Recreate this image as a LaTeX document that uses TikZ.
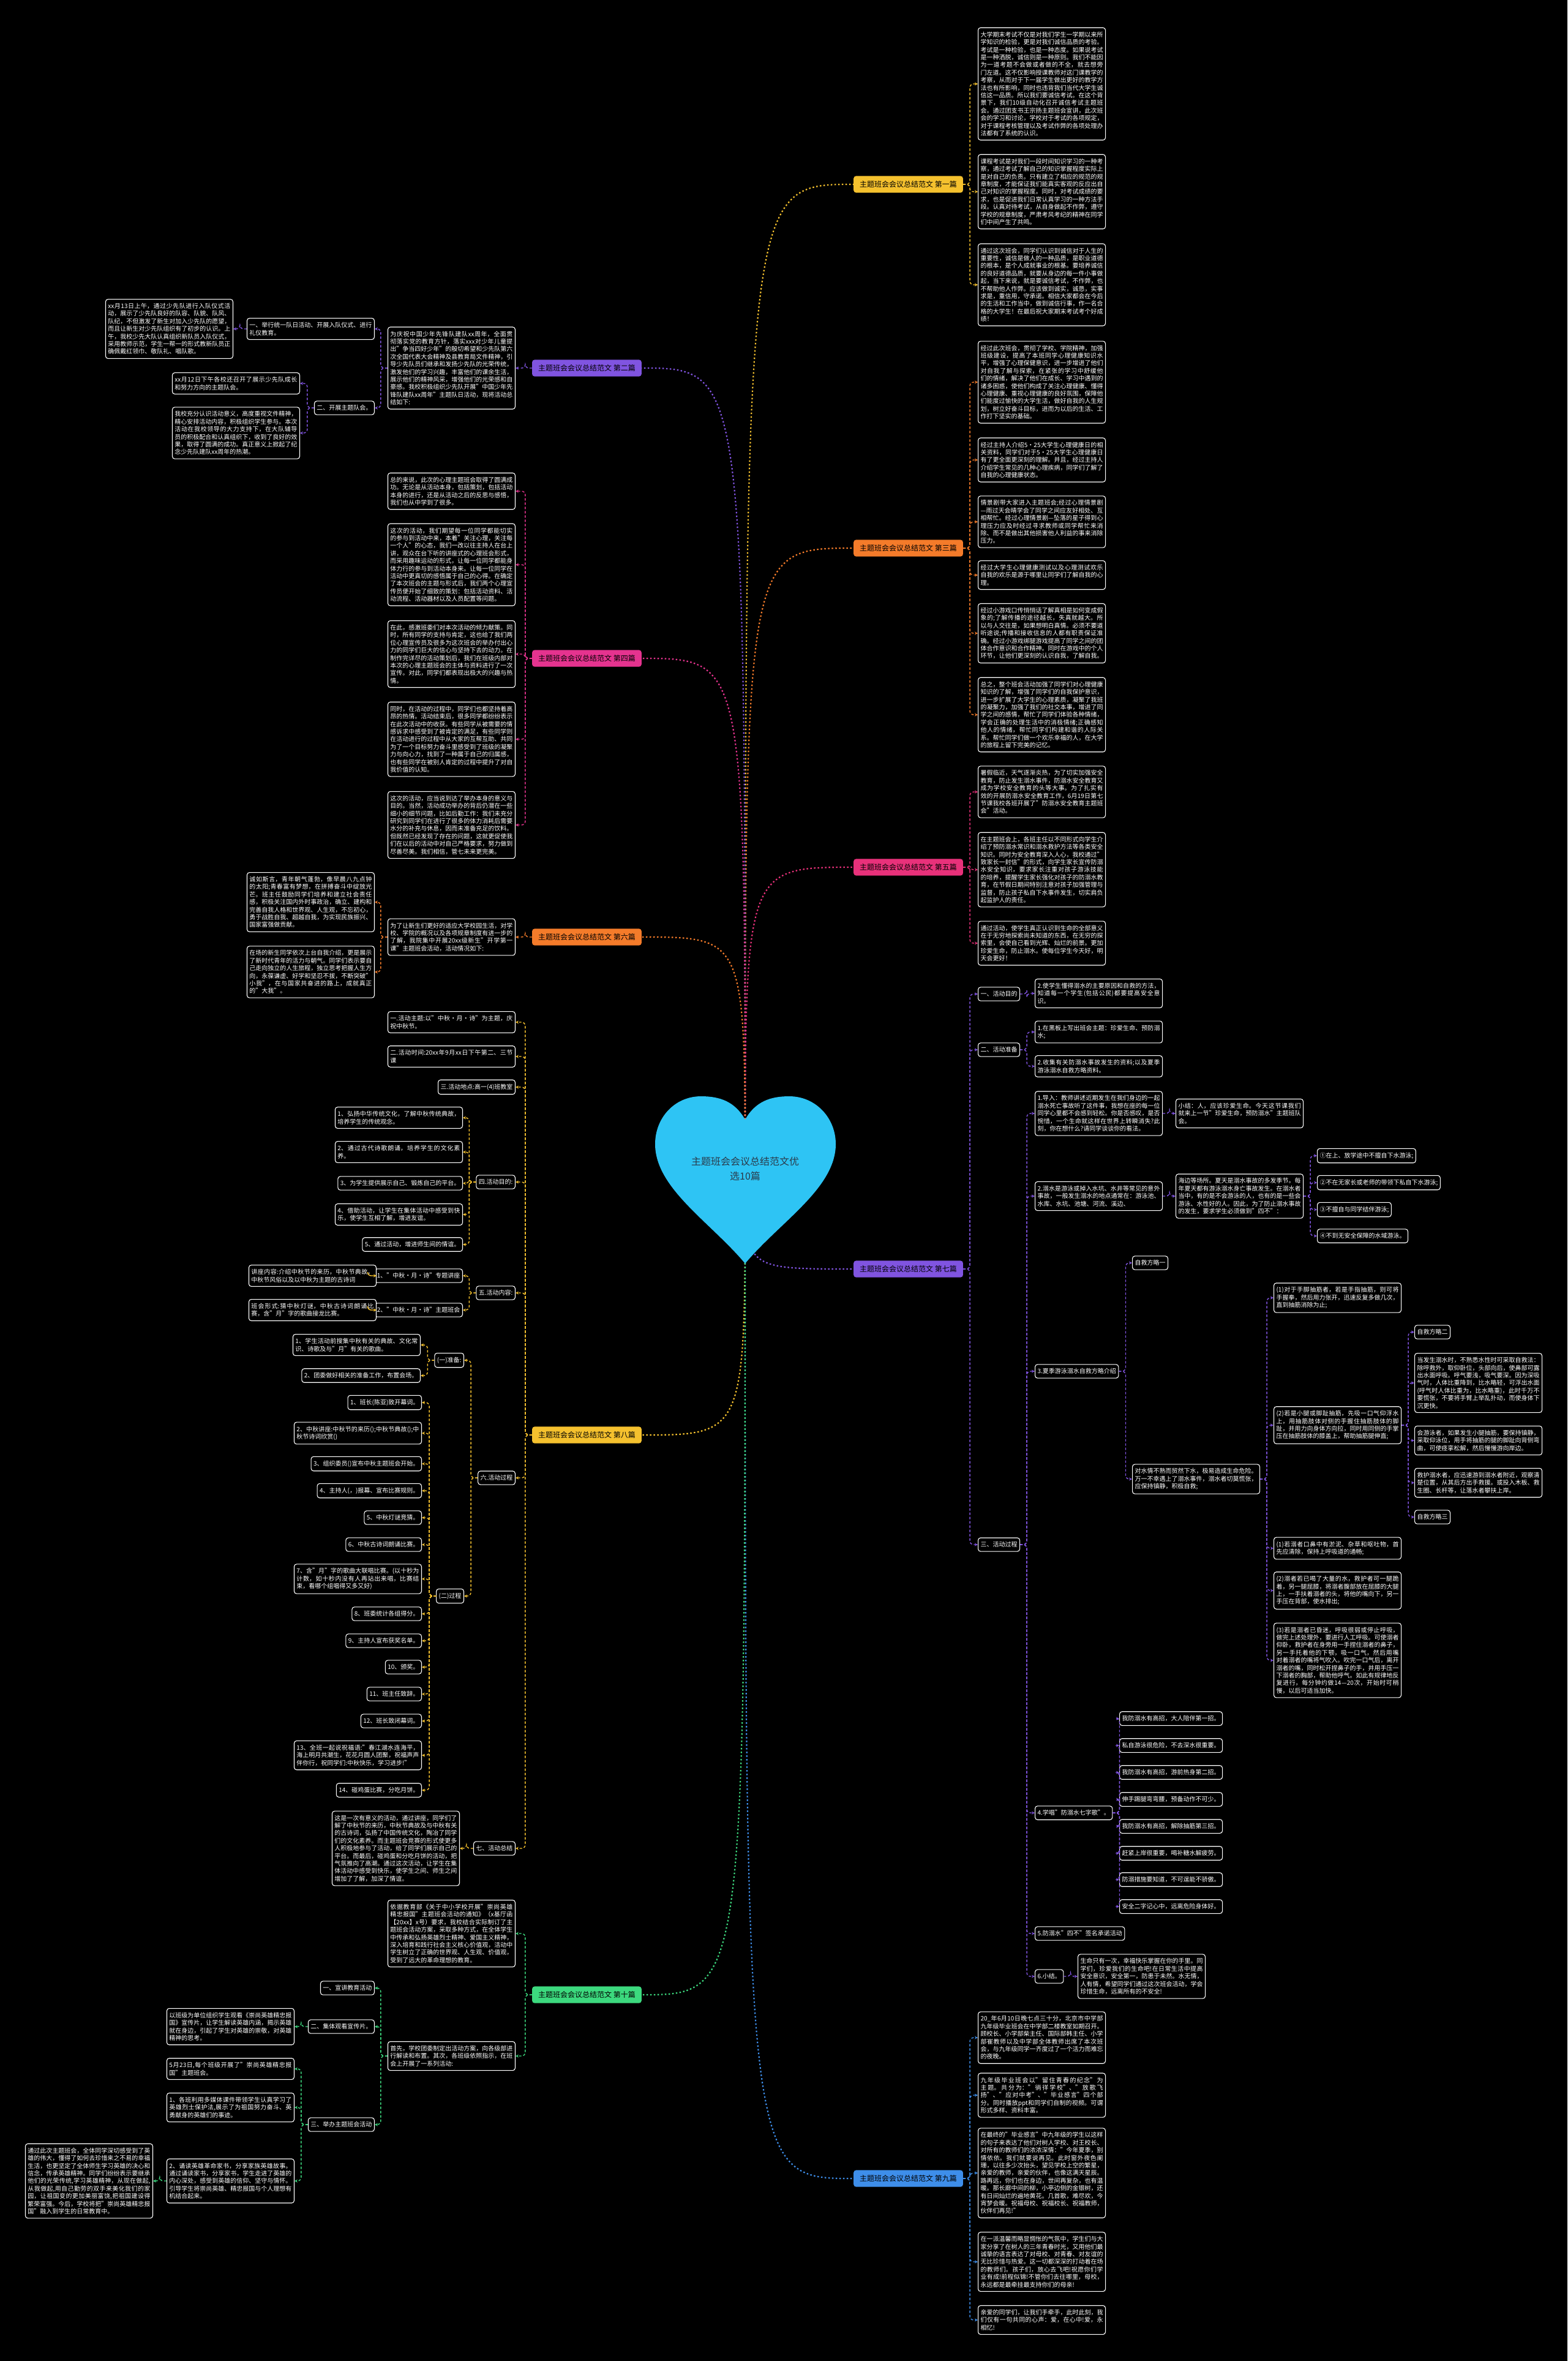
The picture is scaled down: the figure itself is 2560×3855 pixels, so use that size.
\documentclass[tikz,border=0pt]{standalone}
\usepackage{fontspec}
\setmainfont{Noto Sans CJK SC}
\usetikzlibrary{positioning,arrows.meta,calc}
\XeTeXlinebreaklocale "zh"
\XeTeXlinebreakskip=0pt plus 1pt

\definecolor{cyel}{HTML}{F5C12E}
\definecolor{cpur}{HTML}{8054E0}
\definecolor{cora}{HTML}{F47B2A}
\definecolor{cpnk}{HTML}{E5338F}
\definecolor{cmag}{HTML}{E8317A}
\definecolor{cblu}{HTML}{3E8EEA}
\definecolor{cgrn}{HTML}{3CD97E}
\definecolor{heartc}{HTML}{2EC4F4}
\definecolor{titlec}{HTML}{2A3A4A}

\begin{document}
\begin{tikzpicture}[x=1pt, y=-1pt,
  box/.style={draw=white, line width=1.1pt, rounded corners=4pt, fill=black,
              text=white, font=\fontsize{10}{12.4}\selectfont,
              inner xsep=4pt, inner ysep=6.5pt},
  txt/.style={box, text width=200pt, align=justify},
  lbl/.style={rounded corners=4pt, font=\fontsize{12}{14}\selectfont,
              inner xsep=10pt, inner ysep=8pt, text=black},
  sub/.style={line width=1.4pt, dash pattern=on 4pt off 3pt, rounded corners=6pt,
              -{Stealth[length=5pt,width=5pt]}},
  main/.style={line width=2.2pt, dash pattern=on 2.5pt off 3.5pt},
]
\fill[black] (0,0) rectangle (2560,3855);
\coordinate (hc) at (1217,1930);

% branch labels
\node[lbl, fill=cyel, anchor=west] (p1) at (1394,301)  {主题班会会议总结范文 第一篇};
\node[lbl, fill=cpur, anchor=east] (p2) at (1048,601)  {主题班会会议总结范文 第二篇};
\node[lbl, fill=cora, anchor=west] (p3) at (1394,895)  {主题班会会议总结范文 第三篇};
\node[lbl, fill=cpnk, anchor=east] (p4) at (1048,1075) {主题班会会议总结范文 第四篇};
\node[lbl, fill=cmag, anchor=west] (p5) at (1394,1416) {主题班会会议总结范文 第五篇};
\node[lbl, fill=cora, anchor=east] (p6) at (1048,1530) {主题班会会议总结范文 第六篇};
\node[lbl, fill=cpur, anchor=west] (p7) at (1394,2072) {主题班会会议总结范文 第七篇};
\node[lbl, fill=cyel, anchor=east] (p8) at (1048,2343) {主题班会会议总结范文 第八篇};
\node[lbl, fill=cblu, anchor=west] (p9) at (1394,3557) {主题班会会议总结范文 第九篇};
\node[lbl, fill=cgrn, anchor=east] (p10) at (1048,3257) {主题班会会议总结范文 第十篇};

% first
\node[txt, anchor=west] (p1a) at (1597,137) {大学期末考试不仅是对我们学生一学期以来所学知识的检验，更是对我们诚信品质的考验。考试是一种检验，也是一种态度。如果说考试是一种洒脱，诚信则是一种原则。我们不能因为一道考题不会做或者做的不全，就去想旁门左道。这不仅影响授课教师对这门课教学的考察，从而对于下一届学生做出更好的教学方法也有所影响，同时也违背我们当代大学生诚信这一品质。所以我们要诚信考试。在这个背景下，我们10级自动化召开诚信考试主题班会。通过团支书王宗扬主题班会宣讲，此次班会的学习和讨论，学校对于考试的各项规定，对于课程考核管理以及考试作弊的各项处理办法都有了系统的认识。};
\node[txt, anchor=west] (p1b) at (1597,313) {课程考试是对我们一段时间知识学习的一种考察，通过考试了解自己的知识掌握程度实际上是对自己的负责。只有建立了相应的规范的规章制度，才能保证我们能真实客观的反应出自己对知识的掌握程度。同时，对考试成绩的要求，也是促进我们日常认真学习的一种方法手段。认真对待考试，从自身做起不作弊，遵守学校的规章制度，严肃考风考纪的精神在同学们中间产生了共鸣。};
\node[txt, anchor=west] (p1c) at (1597,465) {通过这次班会，同学们认识到诚信对于人生的重要性，诚信是做人的一种品质，是职业道德的根本，是个人成就事业的根基。要培养诚信的良好道德品质，就要从身边的每一件小事做起，当下来说，就是要诚信考试，不作弊，也不帮助他人作弊。应该做到诚实，诚恳，实事求是，重信用，守承诺。相信大家都会在今后的生活和工作当中，做到诚信行事，作一名合格的大学生！在最后祝大家期末考试考个好成绩！};

% third
\node[txt, anchor=west] (p3a) at (1597,624) {经过此次班会，贯彻了学校、学院精神，加强班级建设，提高了本班同学心理健康知识水平，增强了心理保健意识，进一步增进了他们对自我了解与探索，在紧张的学习中舒缓他们的情绪，解决了他们在成长、学习中遇到的诸多困惑，使他们构成了关注心理健康、懂得心理健康、重视心理健康的良好氛围，保障他们能度过愉快的大学生活，做好自我的人生规划，树立好奋斗目标，进而为以后的生活、工作打下坚实的基础。};
\node[txt, anchor=west] (p3b) at (1597,751) {经过主持人介绍5·25大学生心理健康日的相关资料，同学们对于5·25大学生心理健康日有了更全面更深刻的理解。并且，经过主持人介绍学生常见的几种心理疾病，同学们了解了自我的心理健康状态。};
\node[txt, anchor=west] (p3c) at (1597,852) {情景剧带大家进入主题班会;经过心理情景剧—雨过天会晴学会了同学之间应友好相处、互相帮忙。经过心理情景剧—坠落的星子得到心理压力应及时经过寻求教师或同学帮忙来消除、而不是做出其他损害他人利益的事来消除压力。};
\node[txt, anchor=west] (p3d) at (1597,939) {经过大学生心理健康测试以及心理测试欢乐自我的欢乐是源于哪里让同学们了解自我的心理。};
\node[txt, anchor=west] (p3e) at (1597,1034) {经过小游戏口传悄悄话了解真相是如何变成假象的;了解传播的途径越长，失真就越大。所以与人交往是，如果想明白真情。必须不要道听途说;传播和接收信息的人都有职责保证准确。经过小游戏绑腿游戏提高了同学之间的团体合作意识和合作精神。同时在游戏中的个人环节，让他们更深刻的认识自我，了解自我。};
\node[txt, anchor=west] (p3f) at (1597,1167) {总之，整个班会活动加强了同学们对心理健康知识的了解，增强了同学们的自我保护意识，进一步扩展了大学生的心理素质，凝聚了我班的凝聚力，加强了我们的社交本事，增进了同学之间的感情，帮忙了同学们体验各种情绪，学会正确的处理生活中的消极情绪;正确感知他人的情绪，帮忙同学们构建和谐的人际关系。帮忙同学们做一个欢乐幸福的人，在大学的旅程上留下完美的记忆。};

% fifth
\node[txt, anchor=west] (p5a) at (1597,1293) {暑假临近，天气逐渐炎热，为了切实加强安全教育，防止发生溺水事件，防溺水安全教育又成为学校安全教育的头等大事。为了扎实有效的开展防溺水安全教育工作，6月19日第七节课我校各班开展了"防溺水安全教育主题班会"活动。};
\node[txt, anchor=west] (p5b) at (1597,1420) {在主题班会上，各班主任以不同形式向学生介绍了预防溺水常识和溺水救护方法等各类安全知识。同时为安全教育深入人心，我校通过"致家长一封信"的形式，向学生家长宣传防溺水安全知识，要求家长注重对孩子游泳技能的培养，提醒学生家长强化对孩子的防溺水教育，在节假日期间特别注意对孩子加强管理与监督，防止孩子私自下水事件发生，切实肩负起监护人的责任。};
\node[txt, anchor=west] (p5c) at (1597,1540) {通过活动，使学生真正认识到生命的全部意义在于无穷地探索尚未知道的东西，在无穷的探索里，会使自己看到光辉、灿烂的前景。更加珍爱生命，防止溺水。使每位学生今天好，明天会更好！};

% seventh
\node[box, anchor=west] (g1) at (1597,1623) {一、活动目的};
\node[box, anchor=west] (g2) at (1597,1714) {二、活动准备};
\node[box, anchor=west] (g3) at (1597,2522) {三、活动过程};
\node[txt, anchor=west] (g1a) at (1690,1622) {2.使学生懂得溺水的主要原因和自救的方法，知道每一个学生(包括公民)都要提高安全意识。};
\node[txt, anchor=west] (g2a) at (1690,1685) {1.在黑板上写出班会主题：珍爱生命、预防溺水;};
\node[txt, anchor=west] (g2b) at (1690,1741) {2.收集有关防溺水事故发生的资料;以及夏季游泳溺水自救方略资料。};
\node[txt, anchor=west] (s1) at (1690,1818) {1.导入：教师讲述近期发生在我们身边的一起溺水死亡事故听了这件事，我想在座的每一位同学心里都不会感到轻松。你是否感叹，是否惋惜，一个生命就这样在世界上转瞬消失?此刻，你在想什么?请同学谈谈你的看法。};
\node[txt, anchor=west] (s2) at (1690,1953) {2.溺水是游泳或掉入水坑、水井等常见的意外事故，一般发生溺水的地点通常在：游泳池、水库、水坑、池塘、河流、溪边、};
\node[box, anchor=west] (s3) at (1690,2239) {3.夏季游泳溺水自救方略介绍};
\node[box, anchor=west] (s4) at (1690,2960) {4.学唱"防溺水七字歌"。};
\node[box, anchor=west] (s5) at (1690,3157) {5.防溺水"四不"签名承诺活动};
\node[box, anchor=west] (s6) at (1690,3227) {6.小结。};
\node[txt, anchor=west] (s1a) at (1920,1818) {小结：人，应该珍爱生命。今天这节课我们就来上一节"珍爱生命，预防溺水"主题班队会。};
\node[txt, anchor=west] (s2a) at (1920,1953) {海边等场所。夏天是溺水事故的多发季节。每年夏天都有游泳溺水身亡事故发生。在溺水者当中，有的是不会游泳的人，也有的是一些会游泳、水性好的人。因此，为了防止溺水事故的发生，要求学生必须做到"四不"：};
\node[box, anchor=west] (n1) at (2151,1887) {①在上、放学途中不擅自下水游泳;};
\node[box, anchor=west] (n2) at (2151,1931) {②不在无家长或老师的带领下私自下水游泳;};
\node[box, anchor=west] (n3) at (2151,1975) {③不擅自与同学结伴游泳;};
\node[box, anchor=west] (n4) at (2151,2018) {④不到无安全保障的水域游泳。};
\node[box, anchor=west] (z1) at (1849,2062) {自救方略一};
\node[txt, anchor=west] (zz) at (1849,2415) {对水情不熟而贸然下水，极易造成生命危险。万一不幸遇上了溺水事件，溺水者切莫慌张，应保持镇静，积极自救;};
\node[txt, anchor=west] (r1) at (2080,2119) {(1)对于手脚抽筋者，若是手指抽筋，则可将手握拳，然后用力张开，迅速反复多做几次，直到抽筋消除为止;};
\node[txt, anchor=west] (r2) at (2080,2327) {(2)若是小腿或脚趾抽筋，先吸一口气仰浮水上，用抽筋肢体对侧的手握住抽筋肢体的脚趾，并用力向身体方向拉，同时用同侧的手掌压在抽筋肢体的膝盖上，帮助抽筋腿伸直;};
\node[txt, anchor=west] (r3) at (2080,2528) {(1)若溺者口鼻中有淤泥、杂草和呕吐物，首先应清除，保持上呼吸道的通畅;};
\node[txt, anchor=west] (r4) at (2080,2597) {(2)溺者若已喝了大量的水，救护者可一腿跪着，另一腿屈膝，将溺者腹部放在屈膝的大腿上，一手扶着溺者的头，将他的嘴向下，另一手压在背部，使水排出;};
\node[txt, anchor=west] (r5) at (2080,2711) {(3)若是溺者已昏迷，呼吸很弱或停止呼吸，做完上述处理外，要进行人工呼吸。可使溺者仰卧，救护者在身旁用一手捏住溺者的鼻子，另一手托着他的下颚，吸一口气，然后用嘴对着溺者的嘴将气吹入。吹完一口气后，离开溺者的嘴，同时松开捏鼻子的手，并用手压一下溺者的胸部，帮助他呼气。如此有规律地反复进行，每分钟约做14—20次，开始时可稍慢，以后可适当加快。};
\node[box, anchor=west] (q1) at (2310,2175) {自救方略二};
\node[txt, anchor=west] (q2) at (2310,2258) {当发生溺水时，不熟悉水性时可采取自救法：除呼救外，取仰卧位，头部向后，使鼻部可露出水面呼吸。呼气要浅，吸气要深。因为深吸气时，人体比重降到，比水略轻，可浮出水面(呼气时人体比重为，比水略重)，此时千万不要慌张，不要将手臂上举乱扑动，而使身体下沉更快。};
\node[txt, anchor=west] (q3) at (2310,2352) {会游泳者，如果发生小腿抽筋，要保持镇静，采取仰泳位，用手将抽筋的腿的脚趾向背侧弯曲，可使痉挛松解，然后慢慢游向岸边。};
\node[txt, anchor=west] (q4) at (2310,2421) {救护溺水者，应迅速游到溺水者附近，观察清楚位置，从其后方出手救援。或投入木板、救生圈、长杆等，让落水者攀扶上岸。};
\node[box, anchor=west] (q5) at (2310,2477) {自救方略三};
\node[box, anchor=west] (k1) at (1828,2806) {我防溺水有高招，大人陪伴第一招。};
\node[box, anchor=west] (k2) at (1828,2850) {私自游泳很危险，不去深水很重要。};
\node[box, anchor=west] (k3) at (1828,2894) {我防溺水有高招，游前热身第二招。};
\node[box, anchor=west] (k4) at (1828,2938) {伸手踢腿弯弯腰，预备动作不可少。};
\node[box, anchor=west] (k5) at (1828,2982) {我防溺水有高招，解除抽筋第三招。};
\node[box, anchor=west] (k6) at (1828,3026) {赶紧上岸很重要，喝补糖水解疲劳。};
\node[box, anchor=west] (k7) at (1828,3069) {防溺措施要知道，不可逞能不骄傲。};
\node[box, anchor=west] (k8) at (1828,3113) {安全二字记心中，远离危险身体好。};
\node[txt, anchor=west] (s6a) at (1760,3227) {生命只有一次，幸福快乐掌握在你的手里。同学们，珍爱我们的生命吧!在日常生活中提高安全意识，安全第一，防患于未然。水无情，人有情，希望同学们通过这次班会活动，学会珍惜生命，远离所有的不安全!};

% ninth
\node[txt, anchor=west] (p9a) at (1597,3327) {20\_年6月10日晚七点三十分，北京市中学部九年级毕业班会在中学部二楼教室如期召开。顾校长、小学部柴主任、国际部韩主任、小学部崔教师以及中学部全体教师出席了本次班会，与九年级同学一齐度过了一个活力而难忘的夜晚。};
\node[txt, anchor=west] (p9b) at (1597,3421) {九年级毕业班会以"留住青春的纪念"为主题。共分为："徜徉学校"、"放歌飞扬"、"应对中考"、"毕业感言"四个部分。同时播放ppt和同学们自制的视频。可谓形式多样、资料丰富。};
\node[txt, anchor=west] (p9c) at (1597,3548) {在最终的"毕业感言"中九年级的学生以这样的句子来表达了他们对树人学校、对王校长、对所有的教师们的浓浓深情："今年夏季，别情依依。我们就要说再见。此时窗外夜色阑珊，以往多少次抬头，望见学校上空的繁星，亲爱的教师，亲爱的伙伴，也像这满天星辰。路再远，你们也在身边，世间再复杂，也有温暖。那长廊中间的柳，小亭边侧的金银树，还有日间灿烂的遍地黄花。几首歌，难尽欢，今宵梦会暖。祝福母校、祝福校长、祝福教师，伙伴们再见!"};
\node[txt, anchor=west] (p9d) at (1597,3693) {在一派温馨而略显惆怅的气氛中，学生们与大家分享了在树人的三年青春时光，又用他们最诚挚的语言表达了对母校、对青春、对友谊的无比珍惜与热爱。这一切都深深的打动着在场的教师们。孩子们，放心去飞吧!祝愿你们学业有成!前程似锦!不管你们去往哪里，母校，永远都是最牵挂最支持你们的母亲!};
\node[txt, anchor=west] (p9e) at (1597,3788) {亲爱的同学们，让我们手牵手，此时此刻，我们仅有一句共同的心声：爱，在心中!爱，永相忆!};

% second
\node[txt, anchor=east] (w) at (842,601) {为庆祝中国少年先锋队建队xx周年，全面贯彻落实党的教育方针，落实xxx对少年儿童提出"争当四好少年"的殷切希望和少先队第六次全国代表大会精神及县教育局文件精神，引导少先队员们继承和发扬少先队的光荣传统，激发他们的学习兴趣，丰富他们的课余生活，展示他们的精神风采，增强他们的光荣感和自豪感。我校积极组织少先队开展"中国少年先锋队建队xx周年"主题队日活动，现将活动总结如下:};
\node[txt, anchor=east] (w1) at (612,537) {一、举行统一队日活动、开展入队仪式、进行礼仪教育。};
\node[box, anchor=east] (w2) at (612,666) {二、开展主题队会。};
\node[txt, anchor=east] (w1a) at (381,537) {xx月13日上午，通过少先队进行入队仪式活动，展示了少先队良好的队容、队貌、队风、队纪，不但激发了新生对加入少先队的愿望，而且让新生对少先队组织有了初步的认识。上午，我校少先大队认真组织新队员入队仪式，采用教师示范，学生一帮一的形式教新队员正确佩戴红领巾、敬队礼、唱队歌。};
\node[txt, anchor=east] (w2a) at (490,626) {xx月12日下午各校还召开了展示少先队成长和努力方向的主题队会。};
\node[txt, anchor=east] (w2b) at (490,707) {我校充分认识活动意义，高度重视文件精神，精心安排活动内容，积极组织学生参与。本次活动在我校领导的大力支持下，在大队辅导员的积极配合和认真组织下，收到了良好的效果，取得了圆满的成功。真正意义上掀起了纪念少先队建队xx周年的热潮。};

% fourth
\node[txt, anchor=east] (u1) at (842,802) {总的来说，此次的心理主题班会取得了圆满成功。无论是从活动本身，包括策划，包括活动本身的进行，还是从活动之后的反思与感悟，我们也从中学到了很多。};
\node[txt, anchor=east] (u2) at (842,922) {这次的活动，我们期望每一位同学都能切实的参与到活动中来，本着"关注心理，关注每一个人"的心态，我们一改以往主持人在台上讲，观众在台下听的讲座式的心理班会形式，而采用趣味运动的形式，让每一位同学都能身体力行的参与到活动本身来。让每一位同学在活动中更真切的感悟属于自己的心得。在确定了本次班会的主题与形式后，我们两个心理宣传员便开始了细致的策划：包括活动资料、活动流程、活动器材以及人员配置等问题。};
\node[txt, anchor=east] (u3) at (842,1068) {在此，感激班委们对本次活动的倾力献策。同时，所有同学的支持与肯定，这也给了我们两位心理宣传员及很多为这次班会的举办付出心力的同学们巨大的信心与坚持下去的动力。在制作完详尽的活动策划后，我们在班级内部对本次的心理主题班会的主体与资料进行了一次宣传。对此，同学们都表现出极大的兴趣与热情。};
\node[txt, anchor=east] (u4) at (842,1207) {同时，在活动的过程中，同学们也都坚持着高昂的热情。活动结束后，很多同学都纷纷表示在此次活动中的收获。有些同学从被需要的情感诉求中感受到了被肯定的满足，有些同学则在活动进行的过程中从大家的互帮互助、共同为了一个目标努力奋斗里感受到了班级的凝聚力与向心力，找到了一种属于自己的归属感，也有些同学在被别人肯定的过程中提升了对自我价值的认知。};
\node[txt, anchor=east] (u5) at (842,1347) {这次的活动，应当说到达了举办本身的意义与目的。当然，活动成功举办的背后仍潜在一些细小的细节问题，比如后勤工作：我们未充分研究到同学们在进行了很多的体力消耗后需要水分的补充与休息，因而未准备充足的饮料。但既然已经发现了存在的问题，这就更促使我们在以后的活动中对自己严格要求，努力做到尽善尽美。我们相信，管七未来更完美。};

% sixth
\node[txt, anchor=east] (v) at (842,1530) {为了让新生们更好的适应大学校园生活，对学校、学院的概况以及各项规章制度有进一步的了解，我院集中开展20xx级新生"开学第一课"主题班会活动，活动情况如下:};
\node[txt, anchor=east] (v1) at (612,1473) {诚如斯言，青年朝气蓬勃，像早晨八九点钟的太阳;青春富有梦想，在拼搏奋斗中绽放光芒。班主任鼓励同学们培养和建立社会责任感，积极关注国内外时事政治，确立、建构和完善自我人格和世界观、人生观，不忘初心，勇于战胜自我、超越自我，为实现民族振兴、国家富强做贡献。};
\node[txt, anchor=east] (v2) at (612,1587) {在场的新生同学依次上台自我介绍，更是展示了新时代青年的活力与朝气。同学们表示要自己走向独立的人生旅程，独立思考把握人生方向，永葆谦虚、好学和坚忍不拔，不断突破"小我"，在与国家共奋进的路上，成就真正的"大我"。};

% eighth
\node[txt, anchor=east] (m1) at (842,1669) {一.活动主题:以"中秋·月·诗"为主题，庆祝中秋节。};
\node[txt, anchor=east] (m2) at (842,1725) {二.活动时间:20xx年9月xx日下午第二、三节课};
\node[box, anchor=east] (m3) at (842,1775) {三.活动地点:高一(4)班教室};
\node[box, anchor=east] (m4) at (842,1930) {四.活动目的:};
\node[box, anchor=east] (m5) at (842,2111) {五.活动内容:};
\node[box, anchor=east] (m6) at (842,2413) {六.活动过程};
\node[box, anchor=east] (m7) at (842,3018) {七、活动总结};
\node[txt, anchor=east] (m4a) at (756,1825) {1、弘扬中华传统文化，了解中秋传统典故，培养学生的传统观念。};
\node[txt, anchor=east] (m4b) at (756,1881) {2、通过古代诗歌朗诵，培养学生的文化素养。};
\node[box, anchor=east] (m4c) at (756,1932) {3、为学生提供展示自己、锻炼自己的平台。};
\node[txt, anchor=east] (m4d) at (756,1983) {4、借助活动，让学生在集体活动中感受到快乐，使学生互相了解，增进友谊。};
\node[box, anchor=east] (m4e) at (756,2032) {5、通过活动，增进师生间的情谊。};
\node[box, anchor=east] (m5a) at (756,2083) {1、"中秋·月·诗"专题讲座};
\node[box, anchor=east] (m5b) at (756,2139) {2、"中秋·月·诗"主题班会};
\node[txt, anchor=east] (m5aa) at (615,2083) {讲座内容:介绍中秋节的来历，中秋节典故，中秋节风俗以及以中秋为主题的古诗词};
\node[txt, anchor=east] (m5ba) at (615,2139) {班会形式:猜中秋灯谜，中秋古诗词朗诵比赛，含"月"字的歌曲接龙比赛。};
\node[box, anchor=east] (h1) at (758,2221) {(一)准备:};
\node[box, anchor=east] (h2) at (758,2606) {(二)过程};
\node[txt, anchor=east] (h1a) at (687,2196) {1、学生活动前搜集中秋有关的典故、文化常识、诗歌及与"月"有关的歌曲。};
\node[box, anchor=east] (h1b) at (687,2246) {2、团委做好相关的准备工作，布置会场。};
\node[box, anchor=east] (h2a) at (689,2290) {1、班长(陈亚)致开幕词。};
\node[txt, anchor=east] (h2b) at (689,2340) {2、中秋讲座:中秋节的来历();中秋节典故();中秋节诗词欣赏()};
\node[box, anchor=east] (h2c) at (689,2390) {3、组织委员()宣布中秋主题班会开始。};
\node[box, anchor=east] (h2d) at (689,2434) {4、主持人(，)报幕、宣布比赛规则。};
\node[box, anchor=east] (h2e) at (689,2478) {5、中秋灯谜竞猜。};
\node[box, anchor=east] (h2f) at (689,2522) {6、中秋古诗词朗诵比赛。};
\node[txt, anchor=east] (h2g) at (689,2578) {7、含"月"字的歌曲大联唱比赛。(以十秒为计数，如十秒内没有人再站出来唱，比赛结束，看哪个组唱得又多又好)};
\node[box, anchor=east] (h2h) at (689,2635) {8、班委统计各组得分。};
\node[box, anchor=east] (h2i) at (689,2679) {9、主持人宣布获奖名单。};
\node[box, anchor=east] (h2j) at (689,2722) {10、颁奖。};
\node[box, anchor=east] (h2k) at (689,2766) {11、班主任致辞。};
\node[box, anchor=east] (h2l) at (689,2810) {12、班长致闭幕词。};
\node[txt, anchor=east] (h2m) at (689,2866) {13、全班一起说祝福语:"春江湖水连海平，海上明月共潮生，花花月圆人团聚，祝福声声伴你行，祝同学们:中秋快乐，学习进步!"};
\node[box, anchor=east] (h2n) at (689,2923) {14、碰鸡蛋比赛，分吃月饼。};
\node[txt, anchor=east] (m7a) at (751,3018) {这是一次有意义的活动，通过讲座，同学们了解了中秋节的来历，中秋节典故及与中秋有关的古诗词，弘扬了中国传统文化，陶冶了同学们的文化素养。而主题班会竞赛的形式使更多人积极地参与了活动，给了同学们展示自己的平台。而最后，碰鸡蛋和分吃月饼的活动，把气氛推向了高潮。通过这次活动，让学生在集体活动中感受到快乐，使学生之间、师生之间增加了了解，加深了情谊。};

% tenth
\node[txt, anchor=east] (x1) at (842,3157) {依据教育部《关于中小学校开展"崇尚英雄精忠报国"主题班会活动的通知》（x基厅函【20xx】x号）要求，我校结合实际制订了主题班会活动方案，采取多种方式，在全体学生中传承和弘扬英雄烈士精神、爱国主义精神，深入培育和践行社会主义核心价值观，活动中学生树立了正确的世界观、人生观、价值观，受到了远大的革命理想的教育。};
\node[txt, anchor=east] (x2) at (842,3357) {首先，学校团委制定出活动方案，向各级部进行解读和布置。其次，各班级依照指示，在班会上开展了一系列活动:};
\node[box, anchor=east] (y1) at (612,3246) {一、宣讲教育活动};
\node[box, anchor=east] (y2) at (612,3309) {二、集体观看宣传片。};
\node[box, anchor=east] (y3) at (612,3469) {三、举办主题班会活动};
\node[txt, anchor=east] (y2a) at (481,3309) {以班级为单位组织学生观看《崇尚英雄精忠报国》宣传片，让学生解读英雄内涵，揭示英雄就在身边，引起了学生对英雄的崇敬，对英雄精神的思考。};
\node[txt, anchor=east] (y3a) at (481,3378) {5月23日,每个班级开展了"崇尚英雄精忠报国"主题班会。};
\node[txt, anchor=east] (y3b) at (481,3441) {1、各班利用多媒体课件带领学生认真学习了英雄烈士保护法,展示了为祖国努力奋斗、英勇献身的英雄们的事迹。};
\node[txt, anchor=east] (y3c) at (481,3561) {2、诵读英雄革命家书，分享家族英雄故事。通过诵读家书，分享家书，学生走进了英雄的内心深处，感受到英雄的信仰、坚守与情怀。引导学生将崇尚英雄、精忠报国与个人理想有机结合起来。};
\node[txt, anchor=east] (y3cc) at (250,3561) {通过此次主题班会，全体同学深切感受到了英雄的伟大，懂得了如何去珍惜来之不易的幸福生活，也更坚定了全体师生学习英雄的决心和信念，传承英雄精神。同学们纷纷表示要继承他们的光荣传统,学习英雄精神，从现在做起,从我做起,用自己勤劳的双手来美化我们的家园，让祖国变的更加美丽富饶,把祖国建设得繁荣富强。今后，学校将把"崇尚英雄精忠报国"融入到学生的日常教育中。};

% connectors: root to branches
\foreach \p/\c in {p1/cyel,p3/cora,p5/cmag,p7/cpur,p9/cblu}
  \draw[main, \c] (hc) .. controls (hc |- \p) .. (\p.west);
\foreach \p/\c in {p2/cpur,p4/cpnk,p6/cora,p8/cyel,p10/cgrn}
  \draw[main, \c] (hc) .. controls (hc |- \p) .. (\p.east);

% right side
\foreach \c in {p1a,p1b,p1c} \draw[sub, cyel] (p1.east) -- ++(11,0) |- (\c.west);
\foreach \c in {p3a,p3b,p3c,p3d,p3e,p3f} \draw[sub, cora] (p3.east) -- ++(11,0) |- (\c.west);
\foreach \c in {p5a,p5b,p5c} \draw[sub, cmag] (p5.east) -- ++(11,0) |- (\c.west);
\foreach \c in {p9a,p9b,p9c,p9d,p9e} \draw[sub, cblu] (p9.east) -- ++(11,0) |- (\c.west);
\foreach \c in {g1,g2,g3} \draw[sub, cpur] (p7.east) -- ++(11,0) |- (\c.west);
\draw[sub, cpur] (g1.east) -- ++(11,0) |- (g1a.west);
\foreach \c in {g2a,g2b} \draw[sub, cpur] (g2.east) -- ++(11,0) |- (\c.west);
\foreach \c in {s1,s2,s3,s4,s5,s6} \draw[sub, cpur] (g3.east) -- ++(11,0) |- (\c.west);
\draw[sub, cpur] (s1.east) -- ++(11,0) |- (s1a.west);
\draw[sub, cpur] (s2.east) -- ++(11,0) |- (s2a.west);
\foreach \c in {n1,n2,n3,n4} \draw[sub, cpur] (s2a.east) -- ++(11,0) |- (\c.west);
\foreach \c in {z1,zz} \draw[sub, cpur] (s3.east) -- ++(11,0) |- (\c.west);
\foreach \c in {r1,r2,r3,r4,r5} \draw[sub, cpur] (zz.east) -- ++(11,0) |- (\c.west);
\foreach \c in {q1,q2,q3,q4,q5} \draw[sub, cpur] (r2.east) -- ++(11,0) |- (\c.west);
\foreach \c in {k1,k2,k3,k4,k5,k6,k7,k8} \draw[sub, cpur] (s4.east) -- ++(11,0) |- (\c.west);
\draw[sub, cpur] (s6.east) -- ++(11,0) |- (s6a.west);

% left side
\draw[sub, cpur] (p2.west) -- ++(-11,0) |- (w.east);
\foreach \c in {w1,w2} \draw[sub, cpur] (w.west) -- ++(-11,0) |- (\c.east);
\draw[sub, cpur] (w1.west) -- ++(-11,0) |- (w1a.east);
\foreach \c in {w2a,w2b} \draw[sub, cpur] (w2.west) -- ++(-11,0) |- (\c.east);
\foreach \c in {u1,u2,u3,u4,u5} \draw[sub, cpnk] (p4.west) -- ++(-11,0) |- (\c.east);
\draw[sub, cora] (p6.west) -- ++(-11,0) |- (v.east);
\foreach \c in {v1,v2} \draw[sub, cora] (v.west) -- ++(-11,0) |- (\c.east);
\foreach \c in {m1,m2,m3,m4,m5,m6,m7} \draw[sub, cyel] (p8.west) -- ++(-11,0) |- (\c.east);
\foreach \c in {m4a,m4b,m4c,m4d,m4e} \draw[sub, cyel] (m4.west) -- ++(-11,0) |- (\c.east);
\foreach \c in {m5a,m5b} \draw[sub, cyel] (m5.west) -- ++(-11,0) |- (\c.east);
\draw[sub, cyel] (m5a.west) -- ++(-11,0) |- (m5aa.east);
\draw[sub, cyel] (m5b.west) -- ++(-11,0) |- (m5ba.east);
\foreach \c in {h1,h2} \draw[sub, cyel] (m6.west) -- ++(-11,0) |- (\c.east);
\foreach \c in {h1a,h1b} \draw[sub, cyel] (h1.west) -- ++(-11,0) |- (\c.east);
\foreach \c in {h2a,h2b,h2c,h2d,h2e,h2f,h2g,h2h,h2i,h2j,h2k,h2l,h2m,h2n}
  \draw[sub, cyel] (h2.west) -- ++(-11,0) |- (\c.east);
\draw[sub, cyel] (m7.west) -- ++(-11,0) |- (m7a.east);
\foreach \c in {x1,x2} \draw[sub, cgrn] (p10.west) -- ++(-11,0) |- (\c.east);
\foreach \c in {y1,y2,y3} \draw[sub, cgrn] (x2.west) -- ++(-11,0) |- (\c.east);
\draw[sub, cgrn] (y2.west) -- ++(-11,0) |- (y2a.east);
\foreach \c in {y3a,y3b,y3c} \draw[sub, cgrn] (y3.west) -- ++(-11,0) |- (\c.east);
\draw[sub, cgrn] (y3c.west) -- ++(-11,0) |- (y3cc.east);

% heart
\fill[heartc] (1217,1828)
  .. controls (1200,1798) and (1175,1790) .. (1145,1790)
  .. controls (1102,1790) and (1070,1825) .. (1070,1868)
  .. controls (1070,1940) and (1160,1995) .. (1217,2063)
  .. controls (1274,1995) and (1365,1940) .. (1365,1868)
  .. controls (1365,1825) and (1332,1790) .. (1289,1790)
  .. controls (1259,1790) and (1234,1798) .. (1217,1828) -- cycle;
\node[text=titlec, font=\fontsize{16}{24}\selectfont, align=center] (root) at (1217,1908)
  {主题班会会议总结范文优\\选10篇};
\end{tikzpicture}
\end{document}
